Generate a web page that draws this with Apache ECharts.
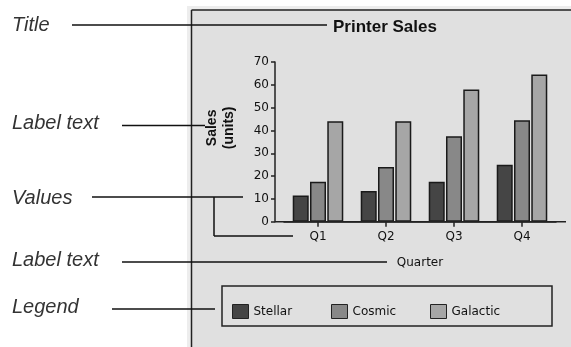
<!DOCTYPE html>
<html>
<head>
<meta charset="utf-8">
<script src="https://cdn.jsdelivr.net/npm/echarts@6/dist/echarts.min.js"></script>
<style>
  html, body { margin: 0; padding: 0; background: #ffffff; }
  #chart { width: 571px; height: 347px; }
</style>
</head>
<body>
<div id="chart"></div>
<script>
// data
const quarters = ['Q1', 'Q2', 'Q3', 'Q4'];
const seriesNames = ['Stellar', 'Cosmic', 'Galactic'];
const stellar = [11.5, 13.5, 17.5, 25];
const cosmic = [17.5, 24, 37.5, 44.5];
const galactic = [44, 44, 58, 64.5];
const barColors = ['#454545', '#888888', '#a6a6a6'];

// annotation callouts on the left side
const notes = [
  {text: 'Title', y: 25.5},
  {text: 'Label text', y: 123},
  {text: 'Values', y: 198},
  {text: 'Label text', y: 260},
  {text: 'Legend', y: 307}
];
const noteLines = [
  [72, 25, 327, 25],
  [122, 125.5, 205, 125.5],
  [92, 197, 243, 197],
  [214, 197, 214, 236],
  [214, 236, 293, 236],
  [122, 262, 387, 262],
  [112, 309, 215, 309]
];

const chart = echarts.init(document.getElementById('chart'));

const axisFont = {fontFamily: 'DejaVu Sans', fontSize: 12, color: '#111'};

const graphics = [
  // chart panel
  {type: 'rect', z: -20, shape: {x: 187, y: 6, width: 384, height: 341}, style: {fill: '#ededed'}},
  {type: 'rect', z: -19, shape: {x: 191.5, y: 10, width: 380, height: 337}, style: {fill: '#e0e0e0'}},
  {type: 'line', z: -18, shape: {x1: 191.5, y1: 10, x2: 571, y2: 10}, style: {stroke: '#222', lineWidth: 1.5}},
  {type: 'line', z: -18, shape: {x1: 191.5, y1: 10, x2: 191.5, y2: 347}, style: {stroke: '#222', lineWidth: 1.5}},
  // x axis line runs past the bars on both sides
  {type: 'line', z: 50, shape: {x1: 275, y1: 221.7, x2: 566, y2: 221.7}, style: {stroke: '#222', lineWidth: 1.5}},
  // legend box
  {type: 'rect', z: 50, shape: {x: 222, y: 286, width: 330, height: 40}, style: {fill: null, stroke: '#222', lineWidth: 1.5}}
];
notes.forEach(n => {
  graphics.push({
    type: 'text', z: 100, x: 12, y: n.y,
    style: {text: n.text, fontFamily: 'Liberation Sans', fontStyle: 'italic', fontSize: 20,
      fill: '#333', textVerticalAlign: 'middle'}
  });
});
noteLines.forEach(l => {
  graphics.push({
    type: 'line', z: 100,
    shape: {x1: l[0], y1: l[1], x2: l[2], y2: l[3]},
    style: {stroke: '#111', lineWidth: 1.5}
  });
});

const legendBase = {
  top: 304, padding: 0, itemWidth: 16, itemHeight: 14, icon: 'rect',
  itemStyle: {borderColor: '#222', borderWidth: 1},
  textStyle: {fontFamily: 'DejaVu Sans', fontSize: 12, color: '#111'}
};

const option = {
  animation: false,
  backgroundColor: '#ffffff',
  title: {
    text: 'Printer Sales',
    left: 333, top: 19, padding: 0,
    textStyle: {fontFamily: 'Liberation Sans', fontWeight: 'bold', fontSize: 17, color: '#111'}
  },
  legend: [
    Object.assign({}, legendBase, {data: [seriesNames[0]], left: 232}),
    Object.assign({}, legendBase, {data: [seriesNames[1]], left: 331}),
    Object.assign({}, legendBase, {data: [seriesNames[2]], left: 430})
  ],
  grid: {left: 284, right: 15, top: 62, bottom: 125.3, containLabel: false},
  xAxis: {
    type: 'category',
    data: quarters,
    name: 'Quarter',
    nameLocation: 'middle',
    nameGap: 35,
    nameTextStyle: axisFont,
    axisLine: {show: true, lineStyle: {color: '#222', width: 1.5}},
    axisTick: {show: true, alignWithLabel: true, length: 5, lineStyle: {color: '#222', width: 1.5}},
    axisLabel: Object.assign({margin: 9}, axisFont),
    splitLine: {show: false}
  },
  yAxis: {
    type: 'value',
    min: 0, max: 70, interval: 10,
    offset: 9,
    name: 'Sales\n(units)',
    nameLocation: 'middle',
    nameRotate: 90,
    nameGap: 37,
    nameTextStyle: {fontFamily: 'Liberation Sans', fontWeight: 'bold', fontSize: 14, lineHeight: 17,
      color: '#111', padding: [0, 0, 0, 28]},
    axisLine: {show: true, lineStyle: {color: '#222', width: 1.5}},
    axisTick: {show: true, length: 4, lineStyle: {color: '#222', width: 1.5}},
    axisLabel: Object.assign({margin: 6}, axisFont),
    splitLine: {show: false}
  },
  series: [stellar, cosmic, galactic].map((vals, i) => ({
    name: seriesNames[i],
    type: 'bar',
    data: vals,
    barWidth: 16,
    barGap: '8%',
    itemStyle: {color: barColors[i], borderColor: '#1a1a1a', borderWidth: 1.5}
  })),
  graphic: graphics
};

chart.setOption(option);
</script>
</body>
</html>
